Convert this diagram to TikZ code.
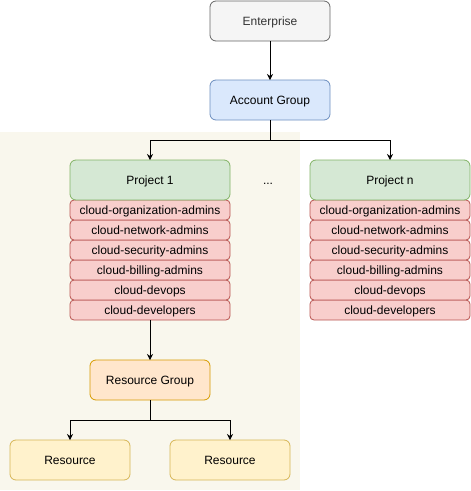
\documentclass[tikz,border=0pt]{standalone}
\usepackage{fontspec}
\setmainfont{Liberation Sans}
\usetikzlibrary{arrows.meta}
\definecolor{entF}{HTML}{F5F5F5}\definecolor{entD}{HTML}{666666}\definecolor{entT}{HTML}{333333}
\definecolor{accF}{HTML}{DAE8FC}\definecolor{accD}{HTML}{6C8EBF}
\definecolor{prjF}{HTML}{D5E8D4}\definecolor{prjD}{HTML}{82B366}
\definecolor{rowF}{HTML}{F8CECC}\definecolor{rowD}{HTML}{B85450}
\definecolor{rgF}{HTML}{FFE6CC}\definecolor{rgD}{HTML}{D79B00}
\definecolor{resF}{HTML}{FFF2CC}\definecolor{resD}{HTML}{D6B656}
\definecolor{bgF}{HTML}{F9F7ED}
\tikzset{
  box/.style={draw, rounded corners=6pt, line width=0.8pt, inner sep=0pt, outer sep=0pt, font=\fontsize{12}{14}\selectfont, text height=8.6pt, text depth=0pt, anchor=north west},
  big/.style={box, minimum width=120pt, minimum height=40pt},
  prj/.style={box, minimum width=160pt, minimum height=40pt, fill=prjF, draw=prjD},
  rowbox/.style={box, rounded corners=4pt, minimum width=160pt, minimum height=20pt, fill=rowF, draw=rowD},
  conn/.style={line width=0.8pt, -{Stealth[length=6pt,width=6pt]}},
}
\begin{document}
\begin{tikzpicture}[x=1pt,y=-1pt]
\useasboundingbox (0,0) rectangle (471,491);
\fill[bgF] (0,131.5) rectangle (300,490);
\node[big, fill=entF, draw=entD, text=entT] (ent) at (210,1) {Enterprise};
\node[big, fill=accF, draw=accD] (acc) at (210,80) {Account Group};
% rows project 1
\node[rowbox] (p1r6) at (70,300) {cloud-developers};
\node[rowbox] (p1r5) at (70,280) {cloud-devops};
\node[rowbox] (p1r4) at (70,260) {cloud-billing-admins};
\node[rowbox] (p1r3) at (70,240) {cloud-security-admins};
\node[rowbox] (p1r2) at (70,220) {cloud-network-admins};
\node[rowbox] (p1r1) at (70,200) {cloud-organization-admins};
\node[prj] (p1) at (70,160) {Project 1};
% rows project n
\node[rowbox] (pnr6) at (310,300) {cloud-developers};
\node[rowbox] (pnr5) at (310,280) {cloud-devops};
\node[rowbox] (pnr4) at (310,260) {cloud-billing-admins};
\node[rowbox] (pnr3) at (310,240) {cloud-security-admins};
\node[rowbox] (pnr2) at (310,220) {cloud-network-admins};
\node[rowbox] (pnr1) at (310,200) {cloud-organization-admins};
\node[prj] (pn) at (310,160) {Project n};
\node[font=\fontsize{12}{14}\selectfont] (dots) at (268,183.5) {...};
\node[big, fill=rgF, draw=rgD] (rg) at (90,360) {Resource Group};
\node[big, fill=resF, draw=resD] (res1) at (10,440) {Resource};
\node[big, fill=resF, draw=resD] (res2) at (170,440) {Resource};
\coordinate (j1) at (270,140);
\coordinate (j2) at (150,420);
\draw[conn] (ent.south) -- (acc.north);
\draw[conn] (acc.south) -- (j1) -| (p1.north);
\draw[conn] (j1) -| (pn.north);
\draw[conn] (p1r6.south) -- (rg.north);
\draw[conn] (rg.south) -- (j2) -| (res1.north);
\draw[conn] (j2) -| (res2.north);
\end{tikzpicture}
\end{document}
